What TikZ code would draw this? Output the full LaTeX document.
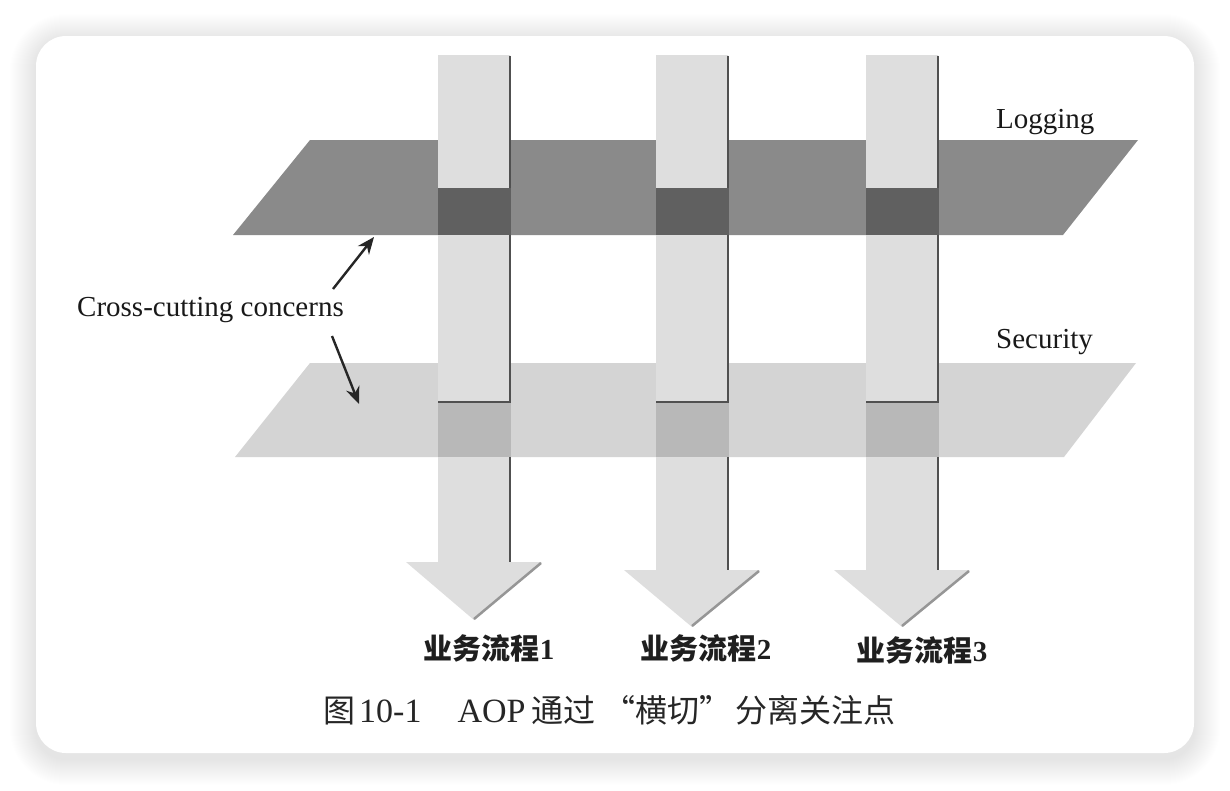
\documentclass[tikz,border=0pt]{standalone}
\usepackage{fontspec}
\setmainfont{Liberation Serif}
\newfontfamily\cjk{Noto Sans CJK SC}
\usetikzlibrary{arrows.meta}
\definecolor{logplane}{RGB}{138,138,138}
\definecolor{logover}{RGB}{96,96,96}
\definecolor{secplane}{RGB}{212,212,212}
\definecolor{secover}{RGB}{184,184,184}
\definecolor{shaft}{RGB}{222,222,222}
\definecolor{edgedark}{RGB}{80,80,80}
\definecolor{headshade}{RGB}{150,150,150}
\tikzset{
  lbl/.style={font=\fontsize{29}{34}\selectfont, inner sep=0pt, text=black!90},
  proc/.style={font=\fontsize{29}{34}\selectfont, inner sep=0pt, text=black!88},
  captext/.style={font=\fontsize{32}{38}\selectfont, inner sep=0pt, text=black!85},
  pointer/.style={draw=black!85, line width=2.4pt, -{Stealth[length=17pt,width=14pt]}},
  flow/.style={fill=shaft},
}
\newcommand{\flowarrow}[4]{% name, center x, base y, tip y
  \fill[flow] ({#2-36},55) -- ({#2+36},55) -- ({#2+36},#3) -- ({#2+68},#3) -- (#2,#4) -- ({#2-68},#3) -- ({#2-36},#3) -- cycle;
  \draw[edgedark, line width=1.6pt] ({#2+36},56) -- ({#2+36},#3);
  \draw[headshade, line width=2.5pt] ({#2+67},{#3+1}) -- (#2,{#4-1});
  \coordinate (#1) at (#2,#4);
}
\newcommand{\latcap}[1]{{\fontsize{34}{38}\selectfont #1}}
\begin{document}
\begin{tikzpicture}[x=1pt,y=-1pt]
\useasboundingbox (0,0) rectangle (1230,790);
\fill[white] (0,0) rectangle (1230,790);
% card shadow
\foreach \i in {1,...,26}{
  \pgfmathsetmacro\rr{30+\i}
  \fill[black, opacity=0.005, rounded corners=\rr pt] ({36-\i},{40-\i}) rectangle ({1194+\i},{759+\i});
}
\fill[white, rounded corners=30pt] (36,36) rectangle (1194,753);

% planes
\fill[logplane] (233,235) -- (310,140) -- (1138,140) -- (1063,235) -- cycle;
\fill[secplane] (235,457) -- (310,363) -- (1136,363) -- (1064,457) -- cycle;

% flow arrows
\flowarrow{f1}{474}{562}{620}
\flowarrow{f2}{692}{570}{627}
\flowarrow{f3}{902}{570}{627}

% overlaps
\foreach \cx in {474,692,902}{
  \fill[logover] ({\cx-36},188) rectangle ({\cx+37},235);
  \fill[secover] ({\cx-36},402) rectangle ({\cx+37},457);
  \draw[edgedark, line width=1.8pt] ({\cx-36},402) -- ({\cx+37},402);
}

% labels
\node[lbl, anchor=base west] (logging) at (996,128) {Logging};
\node[lbl, anchor=base west] (security) at (996,348) {Security};
\node[lbl, anchor=base west] (cross) at (77,316) {Cross-cutting concerns};

\coordinate (p1s) at (333,289);
\coordinate (p1e) at (374,237);
\coordinate (p2s) at (332,336);
\coordinate (p2e) at (359,404);
\draw[pointer] (p1s) -- (p1e);
\draw[pointer] (p2s) -- (p2e);

\node[proc] (l1) at (489,648) {{\cjk\bfseries 业务流程}\textbf{1}};
\node[proc] (l2) at (706,648) {{\cjk\bfseries 业务流程}\textbf{2}};
\node[proc] (l3) at (922,650) {{\cjk\bfseries 业务流程}\textbf{3}};

\node[captext, anchor=west] (caption) at (323,710) {{\cjk 图}\hspace{4pt}\latcap{10-1}\hspace{36pt}\latcap{AOP}\hspace{6pt}{\cjk 通过\hspace{8pt}“横切”\hspace{4pt}分离关注点}};
\end{tikzpicture}
\end{document}
